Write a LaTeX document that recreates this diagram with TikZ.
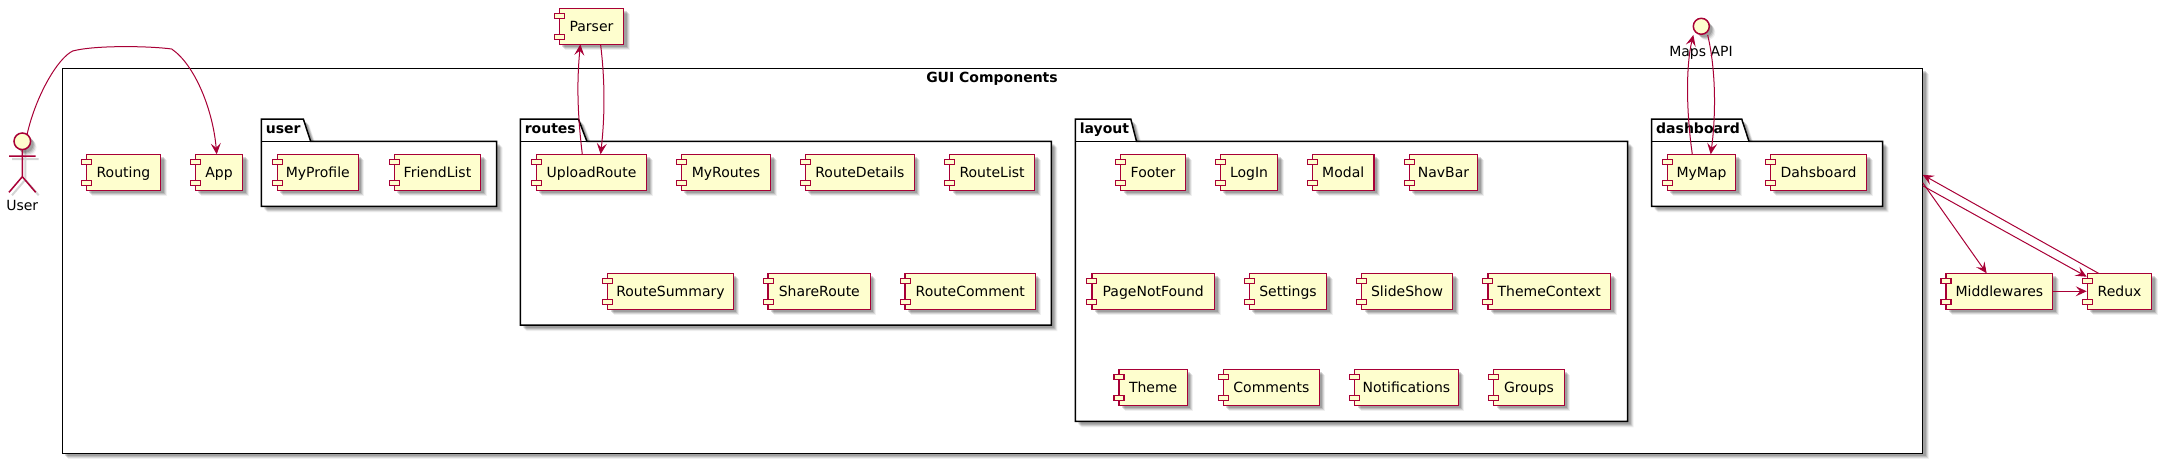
\documentclass[tikz,border=0pt]{standalone}
\usepackage{fontspec}
\setmainfont{DejaVu Sans}
\usetikzlibrary{arrows.meta,shadows}
\definecolor{umlline}{HTML}{A80036}
\definecolor{umlfill}{HTML}{FEFECE}
\tikzset{
  soft/.style={
    general shadow={shadow xshift=6pt,shadow yshift=-6pt,fill=black,opacity=.06},
    general shadow={shadow xshift=5pt,shadow yshift=-5pt,fill=black,opacity=.10},
    general shadow={shadow xshift=4pt,shadow yshift=-4pt,fill=black,opacity=.13},
    general shadow={shadow xshift=3pt,shadow yshift=-3pt,fill=black,opacity=.15}},
  compbox/.style={draw=umlline,fill=umlfill,line width=1.5pt,rectangle,inner sep=0pt,outer sep=0pt,
    minimum height=36pt,text height=10pt,text depth=0pt,font=\fontsize{14}{16}\selectfont,soft},
  portbox/.style={draw=umlline,fill=umlfill,line width=1.2pt},
  pkgline/.style={draw=black,fill=white,line width=1.5pt,line join=miter},
  pkglabel/.style={anchor=base west,inner sep=0pt,font=\fontsize{14}{16}\selectfont\bfseries},
  plainlabel/.style={inner sep=0pt,font=\fontsize{14}{16}\selectfont,text height=10pt,text depth=0pt},
  link/.style={draw=umlline,line width=1pt,-{Stealth[length=11pt,width=10pt,inset=4.5pt]}},
  stick/.style={draw=umlline,line width=1.5pt},
  stickshade/.style={draw=black,opacity=.17,line width=2pt},
}
% id, body left, body right, top, label
\newcommand{\comp}[5]{%
  \pgfmathsetmacro{\cw}{#3-#2}\pgfmathsetmacro{\cx}{(#2+#3)/2}\pgfmathsetmacro{\cy}{#4+18}%
  \node[compbox,minimum width=\cw pt] (#1) at (\cx,\cy) {#5};
  \draw[portbox] ([shift={(-5pt,-5pt)}]#1.north west) rectangle ([shift={(5pt,-10pt)}]#1.north west);
  \draw[portbox] ([shift={(-5pt,10pt)}]#1.south west) rectangle ([shift={(5pt,5pt)}]#1.south west);
}
% id, left, right, bottom, tab top right, tab bottom right, label
\newcommand{\pkg}[7]{%
  \path[pkgline,soft] (#2,141.3) -- (#2,119) -- (#5,119) -- (#6,141.3) -- (#3,141.3) -- (#3,#4) -- (#2,#4) -- cycle;
  \draw[pkgline,fill=none] (#2,141.3) -- (#6,141.3);
  \node[pkglabel] (#1) at (#2+4.3,133.6) {#7};
}
\begin{document}
\begin{tikzpicture}[x=1pt,y=-1pt]
\useasboundingbox (0,0) rectangle (2161,463);

% outer frame
\node[draw=black,fill=white,line width=1.5pt,inner sep=0pt,outer sep=0pt,minimum width=1860.4pt,minimum height=385pt,soft] (gui) at (992.5,260.8) {};
\node[anchor=base,inner sep=0pt,font=\fontsize{14}{16}\selectfont\bfseries] (guititle) at (992,82.8) {GUI Components};

% packages
\pkg{puser}{261.3}{496.7}{206.3}{303.3}{310.7}{user}
\pkg{proutes}{520.3}{1051.4}{325}{578.4}{586.9}{routes}
\pkg{playout}{1075.3}{1627.5}{421.3}{1130.8}{1136.5}{layout}
\pkg{pdash}{1651.7}{1882.7}{206.3}{1741.7}{1749}{dashboard}

% free components
\comp{routing}{86.3}{160.6}{154.3}{Routing}
\comp{app}{195.3}{242.7}{154.3}{App}
\comp{parser}{559.3}{623.6}{8.3}{Parser}
\comp{middle}{1946}{2052.7}{273.3}{Middlewares}
\comp{redux}{2087.3}{2151.7}{273.3}{Redux}

% user
\comp{myprofile}{277.3}{358.3}{154.3}{MyProfile}
\comp{friends}{394.3}{480.7}{154.3}{FriendList}

% routes
\comp{upload}{536.4}{646.6}{154.3}{UploadRoute}
\comp{myroutes}{681.4}{770.5}{154.3}{MyRoutes}
\comp{details}{805.4}{914.4}{154.3}{RouteDetails}
\comp{rlist}{949.6}{1034.6}{154.3}{RouteList}
\comp{summary}{607.5}{733.4}{273.3}{RouteSummary}
\comp{share}{768.2}{870.4}{273.3}{ShareRoute}
\comp{rcomment}{905.2}{1035.3}{273.3}{RouteComment}

% layout
\comp{footer}{1120.5}{1185.5}{154.3}{Footer}
\comp{login}{1220.3}{1277.7}{154.3}{LogIn}
\comp{modal}{1312.6}{1373.8}{154.3}{Modal}
\comp{navbar}{1409.4}{1477.5}{154.3}{NavBar}
\comp{notfound}{1091.8}{1214.6}{273.3}{PageNotFound}
\comp{settings}{1249.4}{1326.7}{273.3}{Settings}
\comp{slides}{1361.5}{1452.6}{273.3}{SlideShow}
\comp{themectx}{1487.8}{1610.6}{273.3}{ThemeContext}
\comp{theme}{1118.9}{1187.4}{369.3}{Theme}
\comp{comments}{1223.4}{1319.4}{369.3}{Comments}
\comp{notif}{1354.6}{1458.3}{369.3}{Notifications}
\comp{groups}{1493.6}{1564.4}{369.3}{Groups}

% dashboard
\comp{mymap}{1667.3}{1735.7}{154.3}{MyMap}
\comp{dahs}{1770.3}{1866.7}{154.3}{Dahsboard}

% maps API interface
\node[circle,draw=umlline,fill=umlfill,line width=1.5pt,minimum size=16pt,inner sep=0pt,outer sep=0pt,soft] (maps) at (1701.3,26.3) {};
\node[plainlabel] (mapslabel) at (1701,51) {Maps API};

% actor
\draw[stickshade] (25.3,144) -- (25.3,179.7) (12,159) -- (38.7,159) (12,195.3) -- (25.3,179.7) -- (38.7,195.3);
\node[circle,draw=umlline,fill=umlfill,line width=1.5pt,minimum size=16.6pt,inner sep=0pt,outer sep=0pt,soft] (actor) at (22.3,141.3) {};
\coordinate (hip) at (22.3,176.7);
\coordinate (armL) at (9,156);
\coordinate (armR) at (35.7,156);
\coordinate (footL) at (9,192.3);
\coordinate (footR) at (35.7,192.3);
\draw[stick] (actor.south) -- (hip) (armL) -- (armR) (footL) -- (hip) -- (footR);
\node[plainlabel] (actorlabel) at (22.3,205) {User};

% connectors
\draw[link] (actor.55) .. controls (36,95) and (58,58) .. (72.7,51) .. controls (95,45) and (150,46) .. (171.7,49) .. controls (195,65) and (213,110) .. ([xshift=-2.3pt]app.north);
\draw[link] ([xshift=-9.2pt]upload.north) .. controls (577,110) and (577,80) .. ([xshift=-11.1pt]parser.south);
\draw[link] ([xshift=9.1pt]parser.south) .. controls (605,80) and (605,115) .. ([xshift=9.1pt]upload.north);
\draw[link] ([xshift=-9.2pt]mymap.north) .. controls (1686,110) and (1686,65) .. ([shift={(-2.3pt,-3pt)}]maps.south west);
\draw[link] ([shift={(0.7pt,-3pt)}]maps.south east) .. controls (1716,70) and (1716,115) .. ([xshift=9.2pt]mymap.north);
\draw[link] ([yshift=78.1pt]gui.east) -- ([xshift=-12.7pt]middle.north);
\draw[link] ([yshift=75pt]gui.east) -- ([shift={(-0.6pt,-3.4pt)}]redux.north west);
\draw[link] ([xshift=-21pt]redux.north) -- ([yshift=86pt]gui.east);
\draw[link] (middle.east) -- ([xshift=-0.6pt]redux.west);
\end{tikzpicture}
\end{document}
